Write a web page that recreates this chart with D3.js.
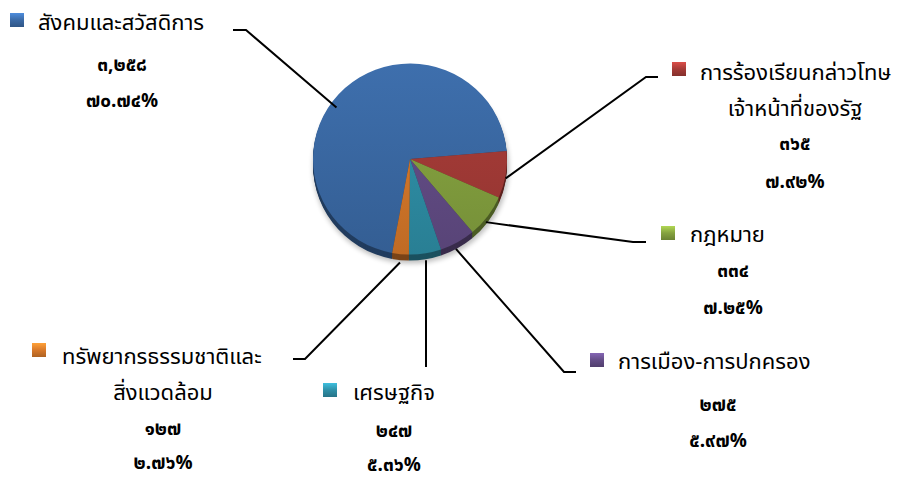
<!DOCTYPE html>
<html><head><meta charset="utf-8">
<script src="https://cdn.jsdelivr.net/npm/d3@7"></script>
<style>
body{margin:0;background:#fff;}
svg{display:block;font-family:Tahoma,"Noto Sans Thai","Noto Sans","Noto Sans CJK SC",sans-serif;}
</style></head><body>
<script>
const categories = ["สังคมและสวัสดิการ","การร้องเรียนกล่าวโทษเจ้าหน้าที่ของรัฐ","กฎหมาย","การเมือง-การปกครอง","เศรษฐกิจ","ทรัพยากรธรรมชาติและสิ่งแวดล้อม"];
const nameLines = [["สังคมและสวัสดิการ"],["การร้องเรียนกล่าวโทษ","เจ้าหน้าที่ของรัฐ"],["กฎหมาย"],["การเมือง-การปกครอง"],["เศรษฐกิจ"],["ทรัพยากรธรรมชาติและ","สิ่งแวดล้อม"]];
const values = [3258,365,334,275,247,127];
const valueLabels = ["๓,๒๕๘","๓๖๕","๓๓๔","๒๗๕","๒๔๗","๑๒๗"];
const percentLabels = ["๗๐.๗๔%","๗.๙๒%","๗.๒๕%","๕.๙๗%","๕.๓๖%","๒.๗๖%"];
const colors = ["#3B6AA6","#A53B37","#85A23F","#644D87","#2F90A8","#D8792A"];

const W=901,H=479;
const svg=d3.select("body").append("svg").attr("width",W).attr("height",H);
const defs=svg.append("defs");

const cx=410, cy=159, r=97, ry=0.985, depth=6;
const startRot = 190.6*Math.PI/180;
const pie=d3.pie().sort(null).value(d=>d).startAngle(startRot).endAngle(startRot+2*Math.PI);
const arcs=pie(values);
const arc=d3.arc().innerRadius(0).outerRadius(r);

colors.forEach((c,i)=>{
  const g=defs.append("linearGradient").attr("id","g"+i).attr("gradientUnits","userSpaceOnUse")
    .attr("x1",0).attr("y1",-r).attr("x2",0).attr("y2",r);
  g.append("stop").attr("offset","0%").attr("stop-color",d3.color(c).brighter(0.12));
  g.append("stop").attr("offset","100%").attr("stop-color",d3.color(c).darker(0.35));
  const k=defs.append("linearGradient").attr("id","k"+i).attr("x1",0).attr("y1",0).attr("x2",0).attr("y2",1);
  k.append("stop").attr("offset","0%").attr("stop-color",d3.color(c).brighter(0.8));
  k.append("stop").attr("offset","50%").attr("stop-color",c);
  k.append("stop").attr("offset","100%").attr("stop-color",d3.color(c).darker(0.6));
});
const blur=defs.append("filter").attr("id","sh").attr("x","-20%").attr("y","-20%").attr("width","140%").attr("height","140%");
blur.append("feGaussianBlur").attr("stdDeviation",2.5);

svg.append("ellipse").attr("cx",cx+1).attr("cy",cy+depth+2).attr("rx",r+1).attr("ry",r*ry+1)
  .attr("fill","#000").attr("opacity",0.25).attr("filter","url(#sh)");

const gSide=svg.append("g").attr("transform",`translate(${cx},${cy+depth}) scale(1,${ry})`);
for(let k=depth;k>=1;k--){
  gSide.append("g").attr("transform",`translate(0,${k-depth})`).selectAll("path").data(arcs).join("path")
    .attr("d",arc).attr("fill",(d,i)=>d3.color(colors[i]).darker(1.6));
}
const gTop=svg.append("g").attr("transform",`translate(${cx},${cy}) scale(1,${ry})`);
gTop.selectAll("path").data(arcs).join("path").attr("d",arc).attr("fill",(d,i)=>`url(#g${i})`);

const leaders=[
  {i:0, pts:(p)=>[p,[246,30],[233,30]]},
  {i:1, pts:(p)=>[p,[646,77],[658,77]]},
  {i:2, pts:(p)=>[p,[633,242],[646,242]]},
  {i:3, pts:(p)=>[p,[564,372],[576,372]]},
  {i:4, pts:(p)=>[p,[426,367]]},
  {i:5, pts:(p)=>[p,[305,359],[293,359]]}
];
const edgeR=[0.93,1.0,1.0,1.02,1.05,1.05];
const edgeA=[-0.28,0,0.03,0.03,-0.07,0];
leaders.forEach(L=>{
  const a=arcs[L.i]; let m=(a.startAngle+a.endAngle)/2+edgeA[L.i];
  if(L.i===0){ m = 5.33; }
  const p=[cx+Math.sin(m)*r*edgeR[L.i], cy-Math.cos(m)*r*ry*edgeR[L.i]+(Math.cos(m)<0?depth*0.6:0)];
  if(L.i===4){p[0]=426;}
  svg.append("path").attr("d",d3.line()(L.pts(p))).attr("fill","none").attr("stroke","#000").attr("stroke-width",2);
});

const labelPos=[
  {kx:10, ky:13, tx:38, ty:30, cxv:122, v1:71, v2:107},
  {kx:672, ky:62, tx:700, ty:80, cxv:795, l2:116, v1:150, v2:188},
  {kx:661, ky:226, tx:690, ty:242, cxv:733, v1:277, v2:314},
  {kx:590, ky:353, tx:618, ty:369, cxv:718, v1:411, v2:447},
  {kx:323, ky:383, tx:353, ty:400, cxv:394, v1:437, v2:471},
  {kx:32, ky:343, tx:62, ty:364, cxv:163, l2:400, v1:435, v2:469}
];
const fsName=22, fsVal=19;
labelPos.forEach((P,i)=>{
  svg.append("rect").attr("x",P.kx).attr("y",P.ky).attr("width",14).attr("height",14).attr("fill",`url(#k${i})`);
  svg.append("text").attr("x",P.tx).attr("y",P.ty).attr("font-size",fsName).attr("fill","#000").text(nameLines[i][0]);
  if(nameLines[i].length>1){
    svg.append("text").attr("x",P.cxv).attr("y",P.l2).attr("text-anchor","middle").attr("font-size",fsName).attr("fill","#000").text(nameLines[i][1]);
  }
  svg.append("text").attr("x",P.cxv).attr("y",P.v1).attr("text-anchor","middle").attr("font-size",fsVal).attr("font-weight","bold").attr("fill","#000").text(valueLabels[i]);
  svg.append("text").attr("x",P.cxv).attr("y",P.v2).attr("text-anchor","middle").attr("font-size",fsVal).attr("font-weight","bold").attr("fill","#000").text(percentLabels[i]);
});
</script>
</body></html>
